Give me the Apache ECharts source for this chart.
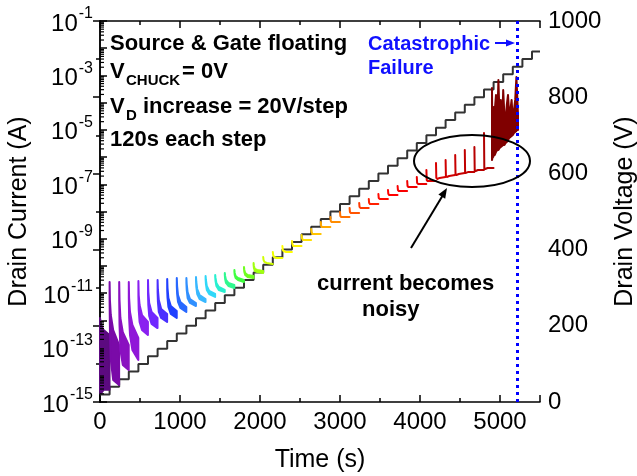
<!DOCTYPE html>
<html><head><meta charset="utf-8">
<script src="https://cdn.jsdelivr.net/npm/echarts@6/dist/echarts.min.js"></script>
<style>html,body{margin:0;padding:0;background:#fff}#c{width:637px;height:476px}</style>
</head><body><div id="c"></div>
<script>
// ---- Drain voltage staircase (V) ----
const voltageTimes = [0,120,240,360,480,600,720,840,960,1080,1200,1320,1440,1560,1680,1800,1920,2040,2160,2280,2400,2520,2640,2760,2880,3000,3120,3240,3360,3480,3600,3720,3840,3960,4080,4200,4320,4440,4560,4680,4800,4920,5040,5160,5280,5400,5500];
const voltages = [20,40,60,80,100,120,140,160,180,200,220,240,260,280,300,320,340,360,380,400,420,440,460,480,500,520,540,560,580,600,620,640,660,680,700,720,740,760,780,800,820,840,860,880,900,920,920];

// ---- Drain current per step (A): upper / lower envelope at offsets within each step ----
const stepStarts = [0,120,240,360,480,600,720,840,960,1080,1200,1320,1440,1560,1680,1800,1920,2040,2160,2280,2400,2520,2640,2760,2880,3000,3120,3240,3360,3480,3600,3720,3840,3960,4080,4200,4320,4440,4560,4680,4800];
const stepOffsets = [0,4,15,45,119];
const stepUpper = [
 [1.22e-12,1.03e-12,6.8e-13,4.4e-13,2.9e-13],
 [2.57e-11,5.61e-12,1.57e-12,4.4e-13,1.24e-13],
 [2.57e-11,5.61e-12,1.22e-12,3.7e-13,1.24e-13],
 [2.57e-11,6.64e-12,2.03e-12,6.8e-13,2.25e-13],
 [2.8e-11,8.55e-12,3.67e-12,1.57e-12,8.7e-13],
 [3.05e-11,1.1e-11,4.35e-12,2.03e-12,1.22e-12],
 [3.05e-11,1.31e-11,5.61e-12,2.62e-12,1.71e-12],
 [3.31e-11,1.55e-11,6.64e-12,3.37e-12,2.21e-12],
 [3.61e-11,1.83e-11,8.55e-12,4.73e-12,3.1e-12],
 [3.61e-11,2.17e-11,1.1e-11,6.1e-12,4.35e-12],
 [3.93e-11,2.57e-11,1.42e-11,8.55e-12,6.1e-12],
 [4.28e-11,3.05e-11,1.83e-11,1.2e-11,9.3e-12],
 [4.65e-11,3.61e-11,2.36e-11,1.69e-11,1.31e-11],
 [5.51e-11,4.28e-11,3.05e-11,2.36e-11,2.0e-11],
 [7.1e-11,5.51e-11,4.28e-11,3.61e-11,3.05e-11],
 [9.1e-11,7.1e-11,5.51e-11,4.65e-11,4.28e-11],
 [1.28e-10,1.0e-10,7.73e-11,7.1e-11,6.5e-11],
 [2.13e-10,1.66e-10,1.4e-10,1.28e-10,1.18e-10],
 [3.26e-10,2.53e-10,2.13e-10,1.96e-10,1.96e-10],
 [5.41e-10,3.86e-10,3.54e-10,3.26e-10,3.26e-10],
 [8.26e-10,6.41e-10,5.41e-10,5.41e-10,5.41e-10],
 [1.37e-9,1.06e-9,9.0e-10,9.0e-10,9.0e-10],
 [2.28e-9,1.77e-9,1.49e-9,1.49e-9,1.49e-9],
 [4.12e-9,2.94e-9,2.7e-9,2.7e-9,2.7e-9],
 [6.3e-9,4.49e-9,4.12e-9,4.12e-9,4.12e-9],
 [9.6e-9,6.85e-9,6.3e-9,6.3e-9,6.3e-9],
 [1.35e-8,9.6e-9,8.83e-9,8.83e-9,8.83e-9],
 [2.06e-8,1.47e-8,1.35e-8,1.35e-8,1.35e-8],
 [2.89e-8,2.06e-8,1.89e-8,1.89e-8,1.89e-8],
 [4.41e-8,3.14e-8,2.89e-8,2.89e-8,2.89e-8],
 [6.18e-8,4.41e-8,4.05e-8,4.05e-8,4.05e-8],
 [8.67e-8,6.18e-8,5.68e-8,5.68e-8,5.68e-8],
 [1.32e-7,8.67e-8,7.96e-8,7.96e-8,7.96e-8],
 [1.86e-7,1.12e-7,1.03e-7,1.03e-7,1.03e-7],
 [3.36e-7,1.44e-7,1.32e-7,1.32e-7,1.32e-7],
 [6.08e-7,1.71e-7,1.57e-7,1.71e-7,1.86e-7],
 [7.83e-7,2.02e-7,1.86e-7,2.02e-7,2.2e-7],
 [1.2e-6,2.39e-7,2.2e-7,2.39e-7,2.61e-7],
 [1.82e-6,2.61e-7,2.61e-7,2.84e-7,2.84e-7],
 [2.35e-6,3.09e-7,3.09e-7,3.36e-7,3.36e-7],
 [7.69e-6,3.66e-7,3.66e-7,3.98e-7,3.98e-7]
];
const stepLower = [
 [2.8e-15,2.1e-15,2.1e-15,2.8e-15,2.8e-15],
 [5.61e-12,4.4e-13,3.5e-14,6.4e-15,4.2e-15],
 [5.61e-12,6.8e-13,8.1e-14,2.3e-14,1.5e-14],
 [6.64e-12,1.22e-12,2.9e-13,8.1e-14,3.5e-14],
 [7.87e-12,2.4e-12,8.7e-13,4.4e-13,2.9e-13],
 [9.3e-12,3.67e-12,1.45e-12,7.4e-13,5.2e-13],
 [1.1e-11,4.73e-12,2.03e-12,1.22e-12,8.7e-13],
 [1.31e-11,6.64e-12,3.1e-12,1.71e-12,1.22e-12],
 [1.83e-11,9.3e-12,4.73e-12,2.85e-12,2.03e-12],
 [2.36e-11,1.31e-11,6.64e-12,4.35e-12,3.37e-12],
 [2.8e-11,1.69e-11,9.3e-12,6.1e-12,4.73e-12],
 [3.31e-11,2.17e-11,1.31e-11,9.3e-12,7.23e-12],
 [3.93e-11,2.8e-11,1.83e-11,1.31e-11,1.1e-11],
 [4.65e-11,3.31e-11,2.36e-11,1.83e-11,1.55e-11],
 [6.0e-11,4.65e-11,3.61e-11,3.05e-11,2.57e-11],
 [7.73e-11,6.0e-11,4.65e-11,3.93e-11,3.61e-11],
 [1.08e-10,8.4e-11,6.5e-11,6.0e-11,5.51e-11]
];
const stepColors = ['#5c0a80','#7a0aa8','#8a10c0','#9018d8','#8a20f0','#7028ff','#4a30ff','#2040ff','#2868ff','#3090ff','#38b8ff','#30d8f8','#28f0d0','#30f890','#40ff40','#70ff20','#a0ff10','#d0ff00','#eeff00','#ffff00','#fff200','#ffe000','#ffc400','#ffa800','#ff8c00','#ff7000','#ff5400','#ff3800','#ff2000','#ff0a00','#ff0000','#f80000','#f00000','#e80000','#e00000','#d80000','#d00000','#c80000','#c00000','#b80000','#b00000'];

// ---- Noisy region before failure ----
const noisyTimes = [4900,4905,4915,4925,4935,4950,4965,4980,4995,5010,5025,5040,5055,5070,5085,5100,5115,5130,5145,5160,5175,5190,5205,5215,5225];
const noisyUpper = [3.47e-4,4.26e-6,6.95e-5,6.5e-6,5.38e-5,1.92e-4,1.51e-5,6.82e-4,2.74e-5,1.26e-4,9.9e-6,2.92e-4,3.53e-5,2.31e-5,8.22e-5,1.92e-4,3.53e-5,5.38e-5,1.26e-4,2.31e-5,5.38e-5,1.26e-4,8.79e-4,1.92e-4,3.53e-5];
const noisyLower = [7.83e-7,9.27e-7,1.01e-6,1.2e-6,1.2e-6,1.54e-6,1.82e-6,1.82e-6,2.16e-6,2.35e-6,2.56e-6,2.79e-6,2.79e-6,3.3e-6,3.59e-6,4.26e-6,5.04e-6,5.48e-6,5.97e-6,6.5e-6,7.69e-6,8.38e-6,9.12e-6,9.9e-6,9.9e-6];
const noisyColor = '#800000';
const failureTime = 5215;

// ---- build segments ----
const segments = [];
for (let k = 0; k < stepStarts.length; k++) {
  const up = stepUpper[k];
  const lo = stepLower[k] || stepUpper[k];
  segments.push({
    t: stepOffsets.map(o => stepStarts[k] + o), up, lo, color: stepColors[k]
  });
}
segments.push({t: noisyTimes, up: noisyUpper, lo: noisyLower, color: noisyColor});

const minorTickVals = [];
for (let e = -15; e < -1; e++) for (let m = 2; m <= 9; m++) minorTickVals.push([0, m * Math.pow(10, e)]);

const chart = echarts.init(document.getElementById('c'), null, {renderer: 'canvas'});
const FONT = 'Liberation Sans, Arial, sans-serif';
const axisLineStyle = {color: '#000', width: 1.5};
const plain = v => String(v);

chart.setOption({
  animation: false,
  backgroundColor: '#fff',
  grid: {left: 100, right: 97, top: 21, bottom: 74, containLabel: false, outerBoundsMode: 'none'},
  xAxis: [
    {type: 'value', min: 0, max: 5500, interval: 1000, position: 'bottom',
     axisLine: {show: true, lineStyle: axisLineStyle}, splitLine: {show: false},
     axisTick: {show: true, inside: true, length: 7, lineStyle: {color: '#000', width: 1.5}},
     minorTick: {show: true, splitNumber: 2, length: 4, lineStyle: {color: '#000', width: 1.5}},
     axisLabel: {fontFamily: FONT, fontSize: 24, color: '#000', margin: 8, formatter: plain},
     name: 'Time (s)', nameLocation: 'middle', nameGap: 46,
     nameTextStyle: {fontFamily: FONT, fontSize: 25, color: '#000'}},
    {type: 'value', min: 0, max: 5500, interval: 1000, position: 'top',
     axisLine: {show: true, lineStyle: axisLineStyle}, splitLine: {show: false},
     axisTick: {show: true, inside: true, length: 7, lineStyle: {color: '#000', width: 1.5}},
     minorTick: {show: true, splitNumber: 2, length: 4, lineStyle: {color: '#000', width: 1.5}},
     axisLabel: {show: false}}
  ],
  yAxis: [
    {type: 'log', logBase: 10, min: 1e-15, max: 1e-1, interval: 1, position: 'left',
     axisLine: {show: true, lineStyle: axisLineStyle}, splitLine: {show: false},
     axisTick: {show: true, inside: true, length: 7, lineStyle: {color: '#000', width: 1.5}},
     axisLabel: {margin: 7, color: '#000',
       formatter: function (v) {
         const e = Math.round(Math.log10(v));
         if (Math.abs(e % 2) !== 1) return '';
         return '{b|10}{s|' + e + '}';
       },
       rich: {b: {fontFamily: FONT, fontSize: 24, color: '#000', verticalAlign: 'bottom', lineHeight: 30},
              s: {fontFamily: FONT, fontSize: 16, color: '#000', verticalAlign: 'top', lineHeight: 30, padding: [0, 0, 0, 1]}}},
     name: 'Drain Current (A)', nameLocation: 'middle', nameGap: 52, nameRotate: 90,
     nameTextStyle: {fontFamily: FONT, fontSize: 25, color: '#000'}},
    {type: 'value', min: 0, max: 1000, interval: 200, position: 'right',
     axisLine: {show: true, lineStyle: axisLineStyle}, splitLine: {show: false},
     axisTick: {show: true, inside: true, length: 7, lineStyle: {color: '#000', width: 1.5}},
     minorTick: {show: true, splitNumber: 2, length: 4, lineStyle: {color: '#000', width: 1.5}},
     axisLabel: {fontFamily: FONT, fontSize: 24, color: '#000', margin: 8, formatter: plain},
     name: 'Drain Voltage (V)', nameLocation: 'middle', nameGap: 70, nameRotate: 90,
     nameTextStyle: {fontFamily: FONT, fontSize: 25, color: '#000'}}
  ],
  series: [
    {type: 'line', name: 'Drain Voltage', xAxisIndex: 0, yAxisIndex: 1, step: 'end', showSymbol: false,
     data: voltageTimes.map((t, i) => [t, voltages[i]]),
     lineStyle: {color: '#333', width: 2}, z: 2,
     markLine: {silent: true, symbol: 'none', label: {show: false},
       lineStyle: {color: '#0000ff', width: 3, type: [3, 4]},
       data: [{xAxis: failureTime}]}},
    {type: 'custom', name: 'Drain Current', xAxisIndex: 0, yAxisIndex: 0, z: 3,
     data: segments.map((s, i) => [s.t[0], s.up[0], i]),
     renderItem: function (params, api) {
       const s = segments[api.value(2)];
       const pts = [];
       for (let i = 0; i < s.t.length; i++) pts.push(api.coord([s.t[i], s.up[i]]));
       for (let i = s.t.length - 1; i >= 0; i--) pts.push(api.coord([s.t[i], s.lo[i]]));
       return {type: 'polygon', shape: {points: pts},
               style: {fill: s.color, stroke: s.color, lineWidth: 2, lineJoin: 'round'}};
     }},
    {type: 'custom', name: 'minor ticks', xAxisIndex: 0, yAxisIndex: 0, z: 4, silent: true,
     data: minorTickVals,
     renderItem: function (params, api) {
       const p = api.coord([0, api.value(1)]);
       return {type: 'line', shape: {x1: p[0], y1: p[1], x2: p[0] + 4, y2: p[1]},
               style: {stroke: '#000', lineWidth: 1.2}};
     }}
  ],
  graphic: [
    {type: 'text', x: 110, y: 44, style: {text: 'Source & Gate floating', font: 'bold 22px ' + FONT, fill: '#000', verticalAlign: 'middle'}},
    {type: 'text', x: 110, y: 72, style: {text: 'V', font: 'bold 22px ' + FONT, fill: '#000', verticalAlign: 'middle'}},
    {type: 'text', x: 126, y: 81, style: {text: 'CHUCK', font: 'bold 15px ' + FONT, fill: '#000', verticalAlign: 'middle'}},
    {type: 'text', x: 182, y: 72, style: {text: '= 0V', font: 'bold 22px ' + FONT, fill: '#000', verticalAlign: 'middle'}},
    {type: 'text', x: 110, y: 107, style: {text: 'V', font: 'bold 22px ' + FONT, fill: '#000', verticalAlign: 'middle'}},
    {type: 'text', x: 126, y: 116, style: {text: 'D', font: 'bold 15px ' + FONT, fill: '#000', verticalAlign: 'middle'}},
    {type: 'text', x: 143, y: 107, style: {text: 'increase = 20V/step', font: 'bold 22px ' + FONT, fill: '#000', verticalAlign: 'middle'}},
    {type: 'text', x: 110, y: 140, style: {text: '120s each step', font: 'bold 22px ' + FONT, fill: '#000', verticalAlign: 'middle'}},
    {type: 'text', x: 368, y: 44, style: {text: 'Catastrophic', font: 'bold 20px ' + FONT, fill: '#1010ff', verticalAlign: 'middle'}},
    {type: 'text', x: 368, y: 68, style: {text: 'Failure', font: 'bold 20px ' + FONT, fill: '#1010ff', verticalAlign: 'middle'}},
    {type: 'line', shape: {x1: 495, y1: 43, x2: 508, y2: 43}, style: {stroke: '#1010ff', lineWidth: 2}},
    {type: 'polygon', shape: {points: [[515, 43], [506, 39.5], [506, 46.5]]}, style: {fill: '#1010ff'}},
    {type: 'ellipse', shape: {cx: 472, cy: 161, rx: 58, ry: 26}, style: {fill: 'none', stroke: '#000', lineWidth: 2}, z: 10},
    {type: 'line', shape: {x1: 411, y1: 248, x2: 443, y2: 195}, style: {stroke: '#000', lineWidth: 2}},
    {type: 'polygon', shape: {points: [[447, 188], [445.2, 198.7], [438.4, 194.5]]}, style: {fill: '#000'}},
    {type: 'text', x: 317, y: 284, style: {text: 'current becomes', font: 'bold 22px ' + FONT, fill: '#000', verticalAlign: 'middle'}},
    {type: 'text', x: 362, y: 310, style: {text: 'noisy', font: 'bold 22px ' + FONT, fill: '#000', verticalAlign: 'middle'}}
  ]
});
</script>
</body></html>
